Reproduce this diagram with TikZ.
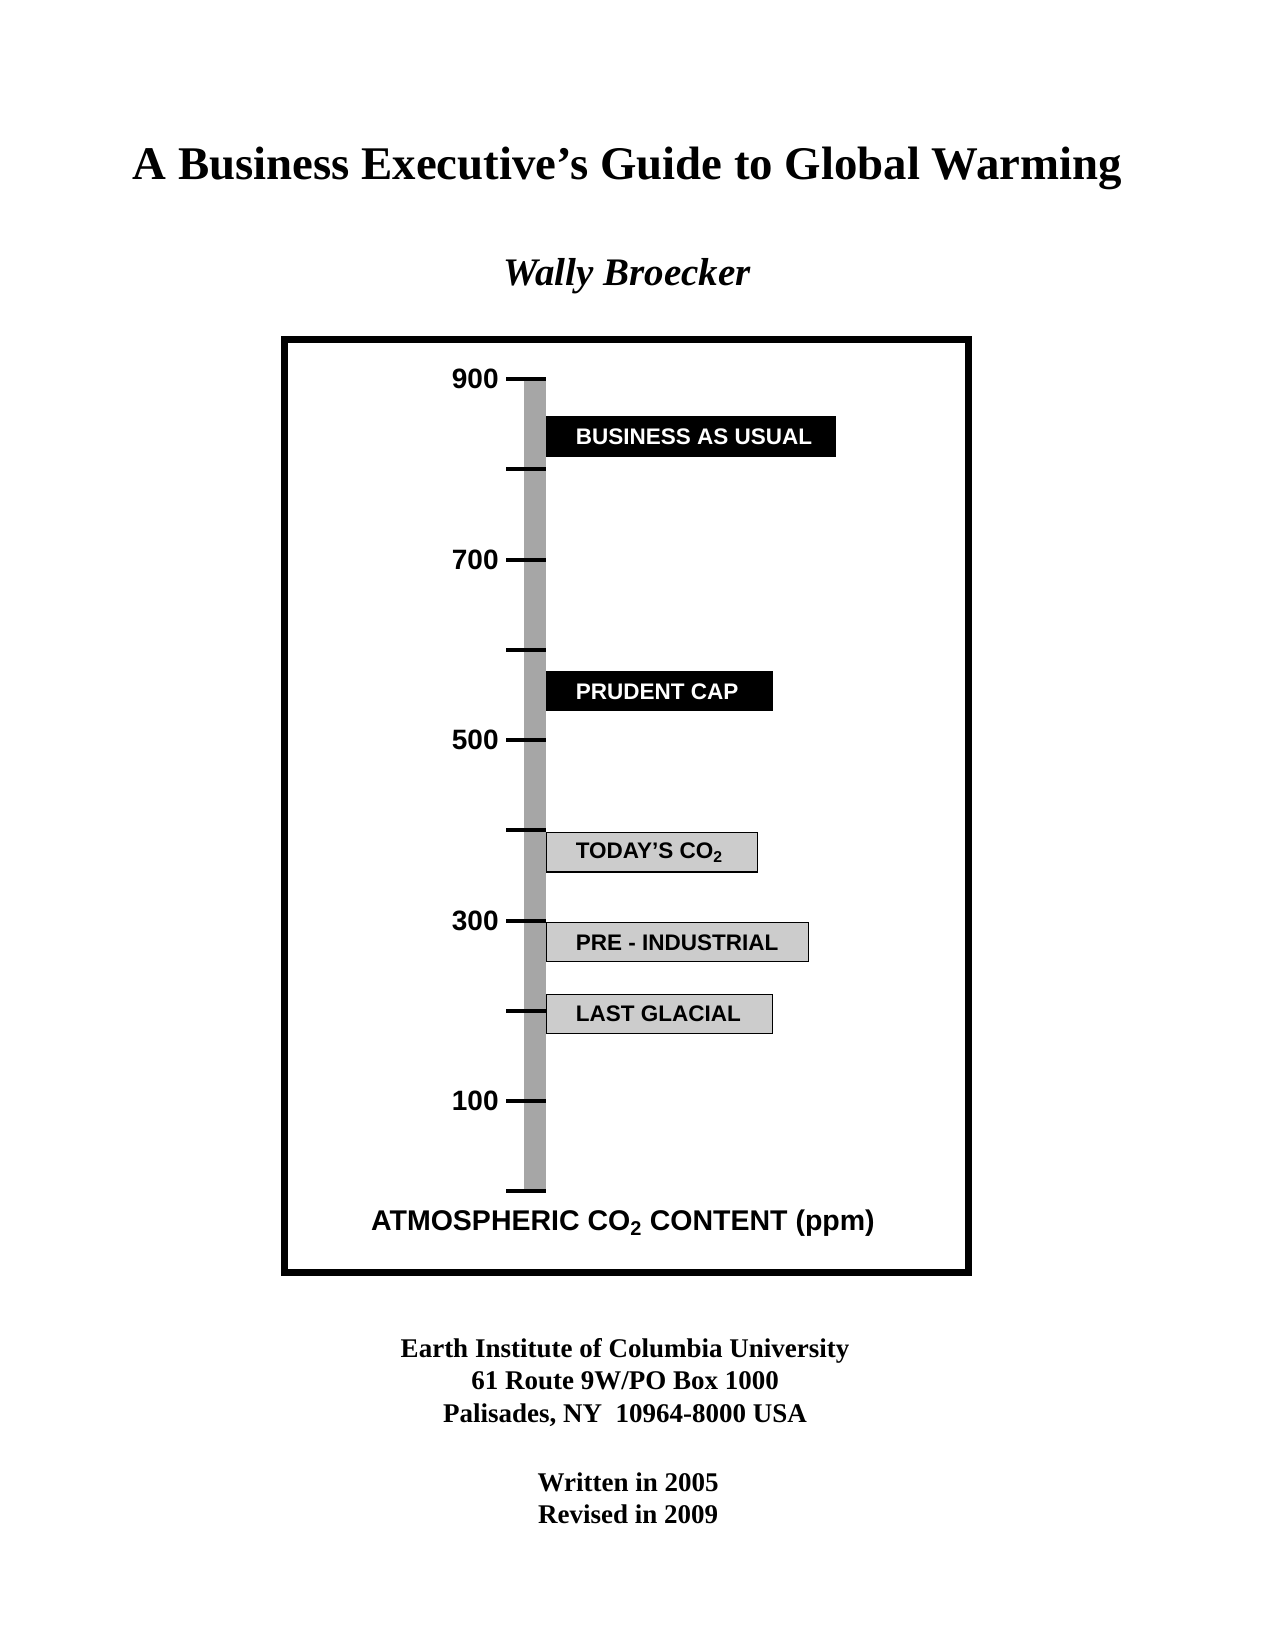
\documentclass[tikz,border=0pt]{standalone}
\usepackage{fontspec}
\setmainfont{Liberation Serif}
\setsansfont{Liberation Sans}
\usetikzlibrary{calc}

\tikzset{
  tick/.style = {line width = 4.2pt},
  ticklabel/.style = {anchor = east, font = \sffamily\bfseries\fontsize{28}{28}\selectfont, inner sep = 0pt},
  darkbar/.style = {fill = black, draw = black},
  lightbar/.style = {fill = black!20, draw = black, line width = 1.2pt},
  barlabel/.style = {anchor = west, font = \sffamily\bfseries\fontsize{22.5}{22.5}\selectfont, inner sep = 0pt},
  footer/.style = {font = \bfseries\fontsize{27}{32.5}\selectfont, align = center}
}

\begin{document}
\begin{tikzpicture}[x = 1.052pt, y = -1.054pt]
    \useasboundingbox (0, 0) rectangle (1212, 1566);

    % title and author
    \node[font = \bfseries\fontsize{46.8}{46.8}\selectfont] (title) at (596, 160) {A Business Executive’s Guide to Global Warming};
    \node[font = \bfseries\itshape\fontsize{39}{39}\selectfont] (author) at (596, 262) {Wally Broecker};

    % frame
    \draw[line width = 7pt] (270, 322) rectangle (920, 1207);

    % scale
    \fill[black!35] (498, 360) rectangle (519, 1130);
    \foreach \v in {0, 1, ..., 9} {
        \draw[tick] (481, {1130 - \v * 85.6}) -- (519, {1130 - \v * 85.6});
    }
    \foreach \v in {1, 3, 5, 7, 9} {
        \node[ticklabel] (lab\v) at (474, {1130 - \v * 85.6}) {\v00};
    }

    % ranges
    \draw[darkbar] (519, 395) rectangle (794, 433);
    \node[barlabel, text = white] (usual) at (547, 414) {BUSINESS AS USUAL};
    \draw[darkbar] (519, 637) rectangle (734, 674);
    \node[barlabel, text = white] (cap) at (547, 656) {PRUDENT CAP};
    \draw[lightbar] (519, 790) rectangle (720, 827);
    \node[barlabel] (today) at (547, 809) {TODAY'S CO\textsubscript{2}};
    \draw[lightbar] (519, 875) rectangle (768, 912);
    \node[barlabel] (pre) at (547, 894) {PRE - INDUSTRIAL};
    \draw[lightbar] (519, 943) rectangle (734, 980);
    \node[barlabel] (glacial) at (547, 962) {LAST GLACIAL};

    \node[font = \sffamily\bfseries\fontsize{28.5}{28.5}\selectfont] (axis) at (592, 1160) {ATMOSPHERIC CO\textsubscript{2} CONTENT (ppm)};

    % footer
    \node[footer] (address) at (594, 1311) {Earth Institute of Columbia University\\61 Route 9W/PO Box 1000\\Palisades, NY\ \ 10964-8000 USA};
    \node[footer] (dates) at (597, 1421) {Written in 2005\\Revised in 2009};
\end{tikzpicture}
\end{document}
